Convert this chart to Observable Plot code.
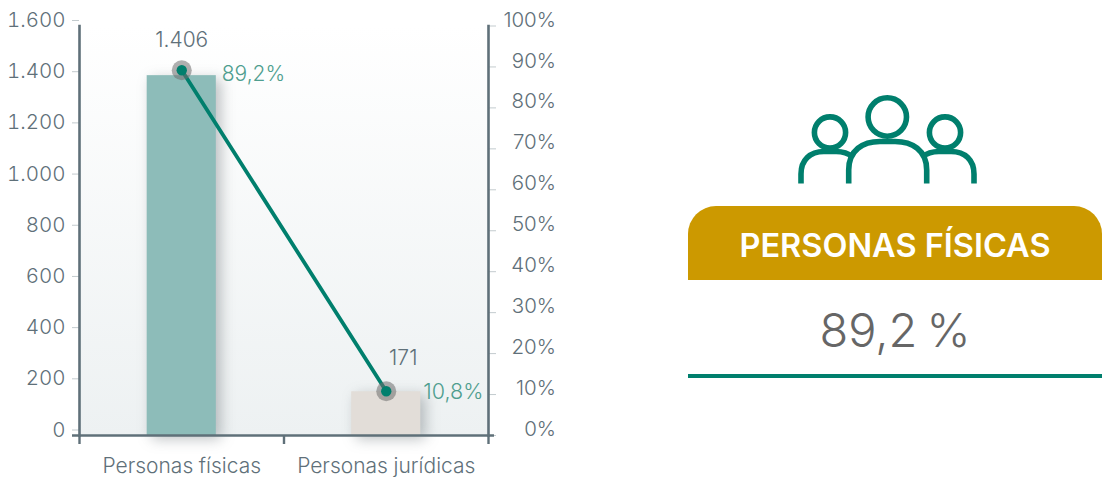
<!DOCTYPE html>
<html lang="es"><head><meta charset="utf-8">
<script src="https://cdn.jsdelivr.net/npm/d3@7"></script>
<script src="https://cdn.jsdelivr.net/npm/@observablehq/plot@0.6"></script>
<style>
html,body{margin:0;padding:0;background:#fff;overflow:hidden}
#wrap{position:relative;width:1102px;height:477px;font-family:Inter,sans-serif}
#wrap svg.plot{position:absolute;left:0;top:0}
.head{position:absolute;left:688px;top:206px;width:414px;height:74px;background:#cc9900;border-radius:28px 28px 0 0;color:#fff;font-size:32.5px;font-weight:600;text-align:center;line-height:79px}
.pct{position:absolute;left:688px;top:298px;width:414px;text-align:center;font-size:47px;font-weight:300;word-spacing:-4px;line-height:64px;color:#666}
.rule{position:absolute;left:688px;top:374px;width:414px;height:4px;background:#007f6d}
.icon{position:absolute;left:790px;top:90px}
</style></head><body>
<div id="wrap"></div>
<script>
const categories = ["Personas físicas", "Personas jurídicas"];
const counts = [1406, 171];
const countLabels = ["1.406", "171"];
const shares = [89.2, 10.8];
const shareLabels = ["89,2%", "10,8%"];
const barColors = ["#8dbcb9", "#e2ddd8"];
const leftTicks = [0, 200, 400, 600, 800, 1000, 1200, 1400, 1600];
const leftTickLabels = ["0", "200", "400", "600", "800", "1.000", "1.200", "1.400", "1.600"];
const rightTicks = [0, 10, 20, 30, 40, 50, 60, 70, 80, 90, 100];
const panelTitle = "PERSONAS FÍSICAS";
const panelValue = "89,2 %";

const idx = categories.map((_, i) => i);
const halfBar = 0.169;
const pctToY = p => p * 16;
const ink = "#5f7079";
const green = "#007f6d";
const font = "Inter, sans-serif";

const gradient = () => {
  const s = d3.create("svg:defs");
  const g = s.append("linearGradient").attr("id", "bgfade").attr("x1", 0).attr("x2", 0).attr("y1", 0).attr("y2", 1);
  g.append("stop").attr("offset", "0%").attr("stop-color", "#ffffff");
  g.append("stop").attr("offset", "100%").attr("stop-color", "#edf1f2");
  return s.node();
};

const chart = Plot.plot({
  width: 1102, height: 477,
  marginLeft: 79, marginRight: 614, marginTop: 25.5, marginBottom: 42,
  style: {fontFamily: font, fontWeight: 300, background: "transparent", overflow: "visible"},
  x: {domain: [-0.5, 1.5], axis: null},
  y: {domain: [0, 1600], axis: null},
  marks: [
    gradient,
    Plot.frame({fill: "url(#bgfade)", stroke: "none"}),
    Plot.rectY(idx, {
      x1: i => i - halfBar, x2: i => i + halfBar, y1: 0, y2: i => counts[i],
      fill: i => barColors[i],
      imageFilter: "drop-shadow(5px 4px 7px rgba(90,100,105,.4))"
    }),
    Plot.axisY(leftTicks, {
      anchor: "left", tickSize: 7, tickPadding: 7, stroke: "#c3cbce", strokeWidth: 1,
      tickFormat: d => leftTickLabels[leftTicks.indexOf(d)], label: null,
      fontSize: 20.5, color: ink, fill: ink, dy: -5.5
    }),
    Plot.axisY(rightTicks.map(pctToY), {
      anchor: "right", tickSize: 7, tickPadding: 9, stroke: "#c3cbce", strokeWidth: 1,
      tickFormat: () => "", label: null
    }),
    Plot.text(rightTicks, {
      y: pctToY, frameAnchor: "right", text: d => d + "%", textAnchor: "end",
      dx: 67.5, dy: -6, fontSize: 20.5, fill: ink
    }),
    Plot.frame({anchor: "left", stroke: ink, strokeWidth: 2.6}),
    Plot.frame({anchor: "right", stroke: ink, strokeWidth: 2.6}),
    Plot.ruleY([0], {x1: -0.5, x2: 1.5, stroke: ink, strokeWidth: 2.6, insetLeft: -7, insetRight: -6}),
    Plot.axisX([-0.5, 0.5, 1.5], {anchor: "bottom", tickSize: 9, tickFormat: () => "", stroke: ink, strokeWidth: 2.4, label: null}),
    Plot.axisX(idx, {
      anchor: "bottom", tickSize: 0, tickPadding: 23, stroke: "none",
      tickFormat: i => categories[i], label: null, fontSize: 21, fill: ink
    }),
    Plot.line(idx, {x: i => i, y: i => pctToY(shares[i]), stroke: green, strokeWidth: 3.8}),
    Plot.dot(idx, {x: i => i, y: i => pctToY(shares[i]), r: 10, fill: "#6e6e6e", fillOpacity: 0.55, stroke: "none"}),
    Plot.dot(idx, {x: i => i, y: i => pctToY(shares[i]), r: 5.2, fill: green, stroke: "none"}),
    Plot.text([0], {x: i => i, y: i => counts[i], text: i => countLabels[i], dy: -35, fontSize: 21, fill: ink}),
    Plot.text([1], {x: i => i, y: i => counts[i], text: i => countLabels[i], dy: -33, dx: 17, fontSize: 21, fill: ink}),
    Plot.text([0], {x: i => i, y: i => pctToY(shares[i]), text: i => shareLabels[i], textAnchor: "start", dx: 40, dy: 4, fontSize: 21, fill: "#4f9e8f"}),
    Plot.text([1], {x: i => i, y: i => pctToY(shares[i]), text: i => shareLabels[i], textAnchor: "start", dx: 37, dy: 1, fontSize: 21.5, fill: "#4f9e8f"})
  ]
});
const wrap = document.getElementById("wrap");
wrap.appendChild(chart);

wrap.insertAdjacentHTML("beforeend", `
<svg class="icon" width="200" height="100" viewBox="790 90 200 100" fill="none" stroke="${green}" stroke-width="5.6">
  <circle cx="887.3" cy="117" r="19.2"/>
  <circle cx="830" cy="132.5" r="15.6"/>
  <circle cx="945" cy="132.5" r="15.6"/>
  <path d="M848.7 183.5V170C848.7 150 863 141.5 880 141.5H895C912 141.5 926.7 150 926.7 170V183.5"/>
  <path d="M801 183.5V174C801 160 810 151.5 824 151.5H836C842 151.5 848 153 853 157"/>
  <path d="M974 183.5V174C974 160 965 151.5 951 151.5H939C933 151.5 927 153 922 157"/>
</svg>
<div class="head"></div><div class="pct"></div><div class="rule"></div>`);
wrap.querySelector(".head").textContent = panelTitle;
wrap.querySelector(".pct").textContent = panelValue;
</script>
</body></html>
